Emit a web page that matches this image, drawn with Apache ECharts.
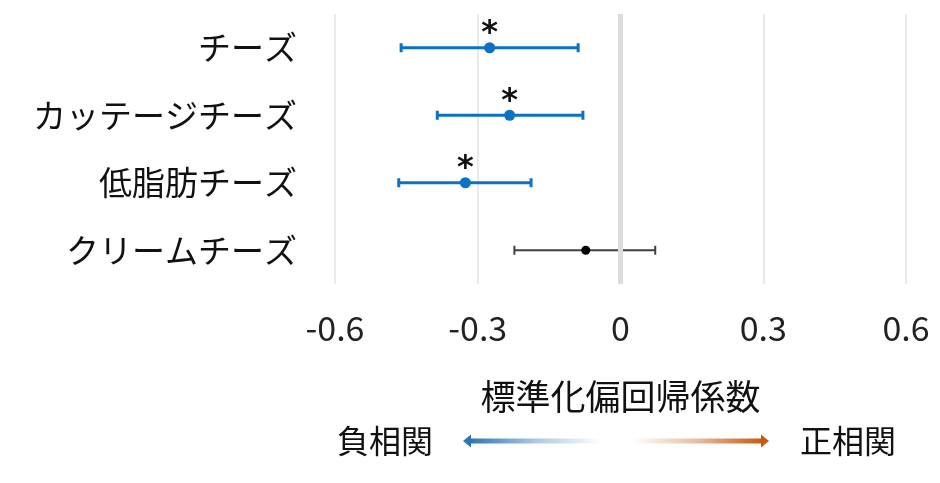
<!DOCTYPE html>
<html><head><meta charset="utf-8">
<script src="https://cdn.jsdelivr.net/npm/echarts@6/dist/echarts.min.js"></script>
<style>html,body{margin:0;padding:0;background:#fff}#c{width:940px;height:483px}</style>
</head><body><div id="c"></div>
<script>
const categories = ['チーズ', 'カッテージチーズ', '低脂肪チーズ', 'クリームチーズ'];
const estimates = [-0.275, -0.233, -0.326, -0.073];
const ciLower = [-0.461, -0.385, -0.466, -0.223];
const ciUpper = [-0.089, -0.079, -0.188, 0.073];
const significant = [true, true, true, false];
const xMin = -0.6, xMax = 0.6, xInterval = 0.3;
const axisTitle = '標準化偏回帰係数';
const negLabel = '負相関';
const posLabel = '正相関';

const FONT = '"Noto Sans CJK JP", "Noto Sans", sans-serif';
const BLUE = '#0A72C4';
const BLACK = '#000000';

const chart = echarts.init(document.getElementById('c'));

const errData = categories.map((c, i) => [ciLower[i], ciUpper[i], i]);
const ptData = categories.map((c, i) => ({
  value: [estimates[i], i],
  symbolSize: significant[i] ? 11 : 9,
  itemStyle: { color: significant[i] ? BLUE : BLACK, opacity: 1 },
  label: { show: significant[i] }
}));

chart.setOption({
  animation: false,
  grid: { left: 335, right: 34, top: 14, bottom: 199, containLabel: false },
  xAxis: {
    type: 'value', min: xMin, max: xMax, interval: xInterval,
    axisLine: { show: false }, axisTick: { show: false },
    splitLine: { show: true, lineStyle: { color: '#e3e3e3', width: 1.5 } },
    axisLabel: { fontFamily: FONT, fontSize: 34, color: '#222', margin: 27,
      formatter: v => (Math.abs(v) < 1e-9 ? '0' : (Math.round(v * 10) / 10).toFixed(1)) },
    name: axisTitle, nameLocation: 'middle', nameGap: 95,
    nameTextStyle: { fontFamily: FONT, fontSize: 35, color: '#111' }
  },
  yAxis: {
    type: 'category', data: categories, inverse: true,
    axisLine: { show: false }, axisTick: { show: false }, splitLine: { show: false },
    axisLabel: { fontFamily: FONT, fontSize: 33, color: '#111', margin: 38 }
  },
  series: [
    {
      type: 'custom', z: 2, data: errData,
      encode: { x: [0, 1], y: 2 },
      renderItem: function (params, api) {
        const i = api.value(2);
        const p1 = api.coord([api.value(0), i]);
        const p2 = api.coord([api.value(1), i]);
        const sig = significant[i];
        const color = sig ? BLUE : '#404040';
        const lw = sig ? 3 : 2;
        const h = 4.5;
        return {
          type: 'group',
          children: [
            { type: 'line', shape: { x1: p1[0], y1: p1[1], x2: p2[0], y2: p2[1] }, style: { stroke: color, lineWidth: lw } },
            { type: 'line', shape: { x1: p1[0], y1: p1[1] - h, x2: p1[0], y2: p1[1] + h }, style: { stroke: color, lineWidth: lw } },
            { type: 'line', shape: { x1: p2[0], y1: p2[1] - h, x2: p2[0], y2: p2[1] + h }, style: { stroke: color, lineWidth: lw } }
          ]
        };
      }
    },
    {
      type: 'scatter', z: 6, data: ptData, symbol: 'circle',
      emphasis: { disabled: true },
      label: { position: 'inside', offset: [0, -14], formatter: '*',
        fontFamily: '"DejaVu Sans", sans-serif', fontWeight: 'bold', fontSize: 32, color: '#111' }
    },
    {
      type: 'line', z: 4, data: [], silent: true,
      markLine: { silent: true, symbol: 'none', label: { show: false },
        lineStyle: { color: '#dcdcdc', width: 5, type: 'solid' },
        data: [{ xAxis: 0 }] }
    }
  ],
  graphic: [
    { type: 'text', left: 337, top: 425, style: { text: negLabel, fontFamily: FONT, fontSize: 32, fill: '#111' } },
    { type: 'text', left: 800, top: 425, style: { text: posLabel, fontFamily: FONT, fontSize: 32, fill: '#111' } },
    { type: 'rect', shape: { x: 470, y: 438.5, width: 131, height: 5 },
      style: { fill: new echarts.graphic.LinearGradient(0, 0, 1, 0, [
        { offset: 0, color: 'rgba(46,117,182,1)' }, { offset: 0.5, color: 'rgba(46,117,182,0.4)' }, { offset: 1, color: 'rgba(46,117,182,0)' }]) } },
    { type: 'polygon', shape: { points: [[463, 441], [471, 434.5], [471, 447.5]] }, style: { fill: 'rgb(46,117,182)' } },
    { type: 'rect', shape: { x: 632, y: 438.5, width: 130, height: 5 },
      style: { fill: new echarts.graphic.LinearGradient(0, 0, 1, 0, [
        { offset: 0, color: 'rgba(197,90,17,0)' }, { offset: 0.5, color: 'rgba(197,90,17,0.4)' }, { offset: 1, color: 'rgba(197,90,17,1)' }]) } },
    { type: 'polygon', shape: { points: [[769, 441], [761, 434.5], [761, 447.5]] }, style: { fill: 'rgb(197,90,17)' } }
  ]
});
</script></body></html>
